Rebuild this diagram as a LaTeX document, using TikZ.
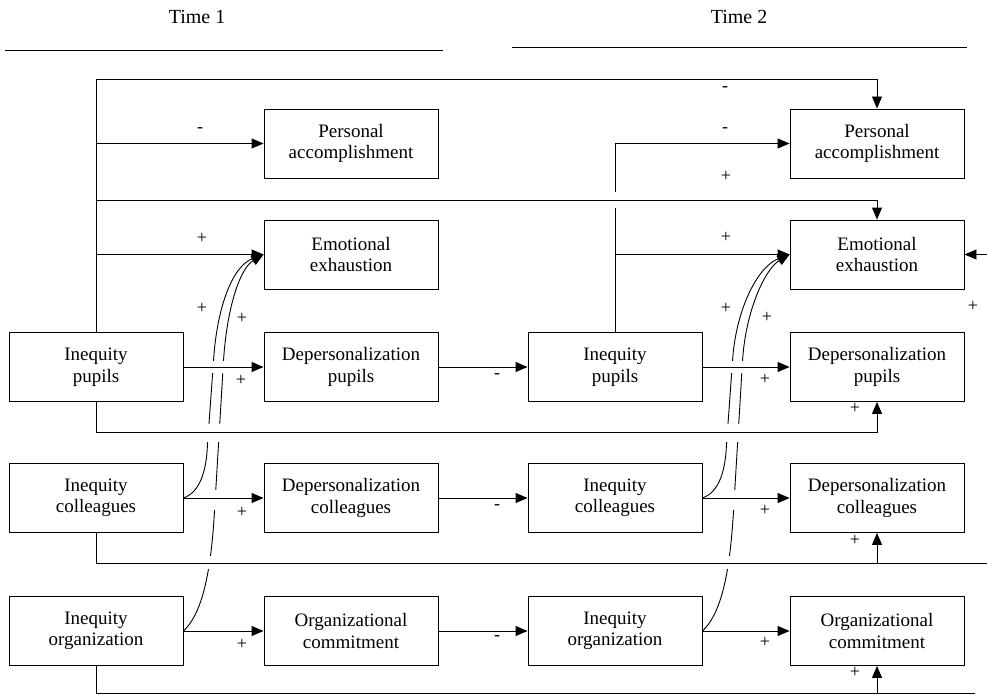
\documentclass[tikz,border=0pt]{standalone}
\usepackage{fontspec}
\setmainfont{Liberation Serif}
\usetikzlibrary{arrows.meta,calc}
\newcommand\curvesTo[3]{%
  \draw[arr] (#1.east) .. controls ($(#1.east)+(17,-6)$) and ($(#1.east)+(23,-28)$) .. ($(#1.east)+(24,-53)$)
     -- ($(#1.east)+(30,-136)$) .. controls ($(#1.east)+(33,-188)$) and ($(#3.west)+(-32,12)$) .. (#3.west);
  \draw[arr] (#2.east) .. controls ($(#2.east)+(17,-16)$) and ($(#2.east)+(27,-51)$) .. ($(#2.east)+(31,-119)$)
     -- ($(#2.east)+(40,-269)$) .. controls ($(#2.east)+(43,-321)$) and ($(#3.west)+(-24,14)$) .. (#3.west);
}
\begin{document}
\begin{tikzpicture}[x=1pt,y=-1pt,
  box/.style={draw, line width=0.9pt, minimum width=174pt, minimum height=69pt, inner sep=0pt, align=center, font=\fontsize{19}{21.5}\selectfont},
  ln/.style={line width=0.9pt},
  arr/.style={ln, -{Triangle[length=12pt,width=10pt]}},
  lab/.style={font=\fontsize{18}{18}\selectfont, inner sep=0pt},
  hdr/.style={font=\fontsize{20}{20}\selectfont, inner sep=0pt},
  gapfill/.style={fill=white, draw=none}]
\useasboundingbox (0,0) rectangle (987,695);
\fill[white] (0,0) rectangle (987,695);

% headers
\node[hdr] (t1) at (197,17) {Time 1};
\node[hdr] (t2) at (739,17) {Time 2};
\coordinate (h1a) at (5,50); \coordinate (h1b) at (443,50);
\coordinate (h2a) at (512,47); \coordinate (h2b) at (967,47);
\draw[ln] (h1a) -- (h1b);
\draw[ln] (h2a) -- (h2b);

% boxes Time 1
\node[box] (ip1) at (96,367) {Inequity\\pupils};
\node[box] (ic1) at (96,498) {Inequity\\colleagues};
\node[box] (io1) at (96,631) {Inequity\\organization};
\node[box] (pa1) at (351,143.5) {Personal\\accomplishment};
\node[box] (ee1) at (351,254.5) {Emotional\\exhaustion};
\node[box] (dp1) at (351,367) {Depersonalization\\pupils};
\node[box] (dc1) at (351,498) {Depersonalization\\colleagues};
\node[box] (oc1) at (351,631) {Organizational\\commitment};
% boxes Time 2
\node[box] (ip2) at (615,367) {Inequity\\pupils};
\node[box] (ic2) at (615,498) {Inequity\\colleagues};
\node[box] (io2) at (615,631) {Inequity\\organization};
\node[box] (pa2) at (877,143.5) {Personal\\accomplishment};
\node[box] (ee2) at (877,254.5) {Emotional\\exhaustion};
\node[box] (dp2) at (877,367) {Depersonalization\\pupils};
\node[box] (dc2) at (877,498) {Depersonalization\\colleagues};
\node[box] (oc2) at (877,631) {Organizational\\commitment};

% curved paths into emotional exhaustion
\curvesTo{ic1}{io1}{ee1}
\curvesTo{ic2}{io2}{ee2}

% gaps where curves pass under lines
\fill[gapfill] (203,361) rectangle (232,373);
\fill[gapfill] (202,424) rectangle (232,442);
\fill[gapfill] (207,490) rectangle (230,510);
\fill[gapfill] (200,556) rectangle (222,569);
\fill[gapfill] (722,361) rectangle (751,373);
\fill[gapfill] (721,424) rectangle (751,442);
\fill[gapfill] (726,490) rectangle (749,510);
\fill[gapfill] (719,556) rectangle (741,569);

% time 1 trunk from Inequity pupils
\draw[arr] (ip1.north) |- (pa2.north |- 0,79) -- (pa2.north);
\draw[arr] (ip1.north |- pa1.west) -- (pa1.west);
\draw[arr] (ip1.north |- 0,200) -| (ee2.north);
\draw[arr] (ip1.north |- ee1.west) -- (ee1.west);

% time 2 trunk from Inequity pupils
\draw[ln] (ip2.north) -- (ip2.north |- 0,208);
\draw[arr] (ip2.north |- 0,192) |- (pa2.west);
\draw[arr] (ip2.north |- ee2.west) -- (ee2.west);

% rows
\draw[arr] (ip1) -- (dp1);
\draw[arr] (dp1) -- (ip2);
\draw[arr] (ip2) -- (dp2);
\draw[arr] (ic1) -- (dc1);
\draw[arr] (dc1) -- (ic2);
\draw[arr] (ic2) -- (dc2);
\draw[arr] (io1) -- (oc1);
\draw[arr] (oc1) -- (io2);
\draw[arr] (io2) -- (oc2);

% lower loops
\draw[arr] (ip1.south) -- ++(0,30) -| (dp2.south);
\coordinate (rc) at (987,563);
\draw[ln] (ic1.south) |- (rc);
\draw[arr] (dc2.south |- rc) -- (dc2.south);
\coordinate (ro) at (975,693);
\draw[ln] (io1.south) |- (ro);
\draw[arr] (oc2.south |- ro) -- (oc2.south);

% right-side input into emotional exhaustion
\coordinate (re) at (987,254.5);
\draw[arr] (re) -- (ee2.east);

% labels
\node[lab] (l1) at (725,89) {-};
\node[lab] (l2) at (200,130) {-};
\node[lab] (l3) at (725,130) {-};
\node[lab] (l4) at (726,176) {+};
\node[lab] (l5) at (202,238) {+};
\node[lab] (l6) at (726,237) {+};
\node[lab] (l7) at (202,308) {+};
\node[lab] (l8) at (242,318) {+};
\node[lab] (l9) at (726,308) {+};
\node[lab] (l10) at (767,317) {+};
\node[lab] (l11) at (973,306) {+};
\node[lab] (l12) at (241,380) {+};
\node[lab] (l13) at (497,376) {-};
\node[lab] (l14) at (765,379) {+};
\node[lab] (l15) at (855,408) {+};
\node[lab] (l16) at (242,512) {+};
\node[lab] (l17) at (497,507) {-};
\node[lab] (l18) at (765,510) {+};
\node[lab] (l19) at (855,540) {+};
\node[lab] (l20) at (242,644) {+};
\node[lab] (l21) at (497,638) {-};
\node[lab] (l22) at (765,642) {+};
\node[lab] (l23) at (855,672) {+};
\end{tikzpicture}
\end{document}
